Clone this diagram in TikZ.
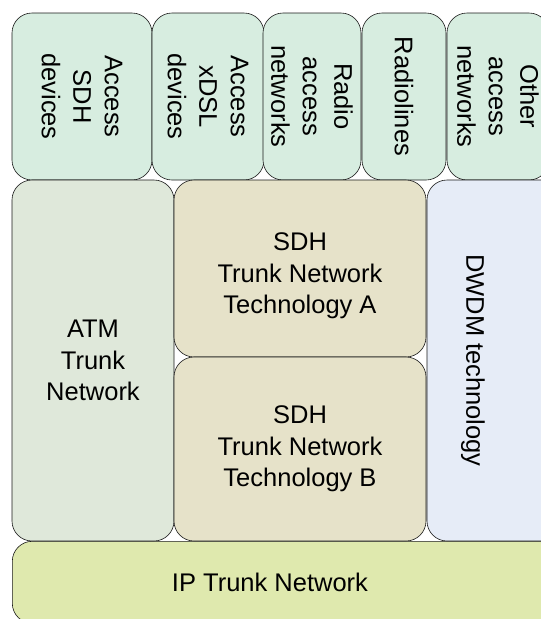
\documentclass[tikz,border=0pt]{standalone}
\usepackage{fontspec}
\setmainfont{Liberation Sans}
\usetikzlibrary{positioning}
\definecolor{accgreen}{HTML}{D7EDE0}
\definecolor{atmgreen}{HTML}{DFE8DA}
\definecolor{sdhbeige}{HTML}{E6E2C9}
\definecolor{dwdmblue}{HTML}{E6ECF7}
\definecolor{ipgreen}{HTML}{DFE9AE}

\begin{document}
\begin{tikzpicture}[x=1pt,y=-1pt,
  layer/.style={draw=black!90,line width=0.6pt,rounded corners=20pt,inner sep=0pt,
    align=center,font=\fontsize{25.5}{31.5}\selectfont},
  access/.style={layer,fill=accgreen,rotate=-90,minimum width=167pt},
  trunk/.style={layer,fill=sdhbeige,minimum width=252pt}]
\useasboundingbox (0,0) rectangle (541,619);
\clip (0,0) rectangle (541,619);
% access layer
\node[access,minimum height=140pt] (sdhacc)     at (82,96.5)  {Access\\SDH\\devices};
\node[access,minimum height=112pt] (xdslacc)    at (208,96.5) {Access\\xDSL\\devices};
\node[access,minimum height=98pt]  (radioacc)   at (312,96.5) {Radio\\access\\networks};
\node[access,minimum height=84pt]  (radiolines) at (404,96.5) {Radiolines};
\node[access,minimum height=102pt] (otheracc)   at (498,96.5) {Other\\access\\networks};
% trunk layer
\node[layer,fill=atmgreen,minimum width=162pt,minimum height=361pt] (atm) at (93,360.5) {ATM\\Trunk\\Network};
\node[trunk,minimum height=177pt] (sdha) at (300,268.5) {};
\node[layer,draw=none] (sdhalabel) at (300,276) {SDH\\Trunk Network\\Technology A};
\node[trunk,minimum height=184pt] (sdhb) at (300,449) {SDH\\Trunk Network\\Technology B};
\node[layer,fill=dwdmblue,minimum width=143pt,minimum height=361pt] (dwdm) at (498.5,360.5) {};
\node[layer,draw=none,rotate=-90] (dwdmlabel) at (473,360.5) {DWDM technology};
% transport
\node[layer,fill=ipgreen,minimum width=560pt,minimum height=82pt,anchor=north west] (ip) at (12,541) {};
\node[layer,draw=none] (iplabel) at (270,582) {IP Trunk Network};
\end{tikzpicture}
\end{document}
